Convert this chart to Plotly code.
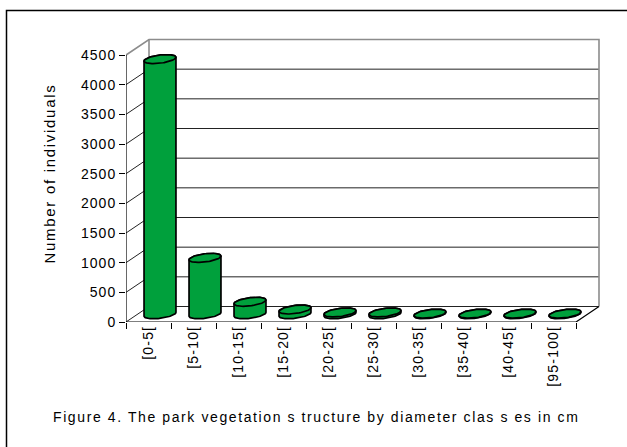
import numpy as np
import plotly.graph_objects as go

# ---------------- data ----------------
categories = ["[0-5[", "[5-10[", "[10-15[", "[15-20[", "[20-25[",
              "[25-30[", "[30-35[", "[35-40[", "[40-45[", "[95-100["]
counts = [4300, 950, 210, 80, 30, 30, 10, 10, 10, 10]
y_ticks = [0, 500, 1000, 1500, 2000, 2500, 3000, 3500, 4000, 4500]
y_title = "Number of individuals"
caption = "Figure 4. The park vegetation s tructure by diameter clas s es in cm"

# ---------------- geometry / style ----------------
W, H = 627, 447
ML, MR, MT, MB = 126, 24, 30, 447 - 322
PX_CAT = 45.0
PX_UNIT = 267.0 / 4500.0
PW, PH = W - ML - MR, H - MT - MB
xr = [-0.5, -0.5 + PW / PX_CAT]
yr = [0, PH / PX_UNIT]
DX = 23.0 / PX_CAT          # depth offset (category units)
DY = 15.5 / PX_UNIT         # depth offset (value units)
GREEN = "rgb(0,160,60)"
FONT = "Liberation Sans, Arial, sans-serif"


def spaced(t, ls):
    return f'<span style="letter-spacing:{ls}px">{t}</span>'


def px2paper_x(px):
    return (px - ML) / PW


def px2paper_y(py):
    return (H - MB - py) / PH


fig = go.Figure()

n = len(categories)
x_lo, x_hi = -0.5, n - 0.5
ymax = y_ticks[-1]

# back wall + left wall gridlines
gx, gy = [], []
for v in y_ticks[:-1]:
    gx += [x_lo, x_lo + DX, x_hi + DX, None]
    gy += [v, v + DY, v + DY, None]
fig.add_trace(go.Scatter(x=gx, y=gy, mode="lines",
                         line=dict(color="#222222", width=1), hoverinfo="skip"))

# wall borders (gray)
bx = [x_lo, x_lo + DX, x_hi + DX, x_hi + DX, None, x_lo + DX, x_lo + DX]
by = [ymax, ymax + DY, ymax + DY, DY, None, DY, ymax + DY]
fig.add_trace(go.Scatter(x=bx, y=by, mode="lines",
                         line=dict(color="#8c8c8c", width=1.6), hoverinfo="skip"))

# front axes (black)
fx = [x_lo, x_lo, None, x_lo, x_hi, x_hi + DX]
fy = [ymax, 0, None, 0, 0, DY]
fig.add_trace(go.Scatter(x=fx, y=fy, mode="lines",
                         line=dict(color="black", width=1.2), hoverinfo="skip"))

# cylinders
a = 14.5 / PX_CAT
rho = 0.29
b = rho * DX
c = rho * DY
th0 = np.arctan2(b, a)
up = np.linspace(th0, th0 + np.pi, 40)
dn = np.linspace(th0 + np.pi, th0 + 2 * np.pi, 40)
full = np.linspace(0, 2 * np.pi, 80)
for i, v in enumerate(counts):
    cx = i + DX / 2
    base = DY / 2
    xs = np.concatenate([cx + a * np.cos(up) + b * np.sin(up),
                         cx + a * np.cos(dn) + b * np.sin(dn)])
    ys = np.concatenate([base + v + c * np.sin(up),
                         base + c * np.sin(dn)])
    xs = np.append(xs, xs[0])
    ys = np.append(ys, ys[0])
    fig.add_trace(go.Scatter(x=xs, y=ys, mode="lines", fill="toself",
                             fillcolor=GREEN, line=dict(color="black", width=1.7),
                             hoverinfo="skip"))
    tx = cx + a * np.cos(full) + b * np.sin(full)
    ty = base + v + c * np.sin(full)
    fig.add_trace(go.Scatter(x=tx, y=ty, mode="lines", fill="toself",
                             fillcolor=GREEN, line=dict(color="black", width=1.7),
                             hoverinfo="skip"))

fig.update_layout(
    width=W, height=H,
    margin=dict(l=ML, r=MR, t=MT, b=MB, pad=0),
    paper_bgcolor="white", plot_bgcolor="white",
    showlegend=False,
    font=dict(family=FONT, size=14, color="black"),
    xaxis=dict(range=xr, showgrid=False, zeroline=False, showline=False,
               tickmode="array", tickvals=list(range(n)),
               ticktext=[spaced(t, 1.2) for t in categories],
               tickangle=-90, ticks="", ticklen=0,
               tickfont=dict(family=FONT, size=14, color="black"),
               minor=dict(tickmode="array", tickvals=[k - 0.5 for k in range(n + 1)],
                          ticks="outside", ticklen=6, tickcolor="black", tickwidth=1,
                          showgrid=False)),
    yaxis=dict(range=yr, showgrid=False, zeroline=False, showline=False,
               tickmode="array", tickvals=y_ticks,
               ticktext=[spaced(str(t), 1.0) for t in y_ticks],
               ticks="outside", ticklen=6, tickcolor="black", tickwidth=1,
               tickfont=dict(family=FONT, size=14, color="black")),
    shapes=[dict(type="rect", xref="paper", yref="paper",
                 x0=px2paper_x(6.5), x1=px2paper_x(700),
                 y0=px2paper_y(500), y1=px2paper_y(10.5),
                 line=dict(color="black", width=1.5), fillcolor="rgba(0,0,0,0)",
                 layer="below")],
    annotations=[
        dict(xref="paper", yref="paper", x=px2paper_x(49), y=px2paper_y(173.5),
             text=spaced(y_title, 1.7), textangle=-90, showarrow=False,
             font=dict(family=FONT, size=15, color="black"),
             xanchor="center", yanchor="middle"),
        dict(xref="paper", yref="paper", x=px2paper_x(316), y=px2paper_y(417),
             text=spaced(caption, 1.6), showarrow=False,
             font=dict(family=FONT, size=14, color="black"),
             xanchor="center", yanchor="middle"),
    ],
)

fig.write_html("out.html", config={"displayModeBar": False},
               post_script="document.body.style.margin='0';document.body.style.overflow='hidden';")
